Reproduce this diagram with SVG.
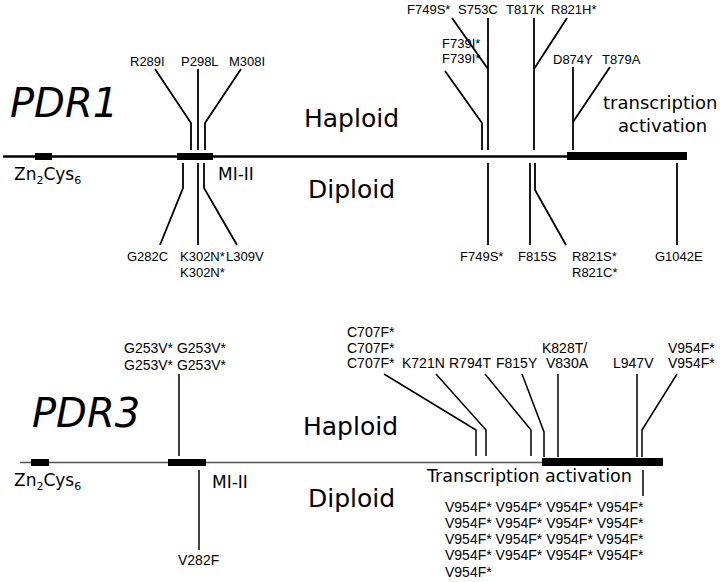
<svg xmlns="http://www.w3.org/2000/svg" width="720" height="582" viewBox="0 0 720 582">
<style>
.bg{fill:#fff}
.m1{font-family:"Liberation Sans",Arial,sans-serif;font-size:13px;fill:#000}
.m3{font-family:"Liberation Sans",Arial,sans-serif;font-size:14px;fill:#000}
.cs{font-family:"DejaVu Sans",sans-serif;fill:#000}
.gene{font-size:40px;font-style:italic}
.ploid{font-size:25px}
.dom{font-size:17px}
.ln{fill:none;stroke:#000;stroke-width:1.8}
.ln3{fill:none;stroke:#000;stroke-width:1.5}
.box{fill:#000}
</style>
<rect class="bg" x="0" y="0" width="720" height="582"/>

<!-- PDR1 -->
<g id="pdr1-track">
  <line x1="3" y1="156.5" x2="568" y2="156.5" stroke="#000" stroke-width="2.5"/>
  <text class="cs gene" x="10" y="117">PDR1</text>
  <text class="cs ploid" x="304" y="127">Haploid</text>
  <text class="cs ploid" x="308" y="198">Diploid</text>
</g>
<g id="pdr1-zn">
  <rect class="box" x="35" y="153" width="17" height="7"/>
  <text class="cs dom" x="14" y="180">Zn<tspan font-size="11" dy="4">2</tspan><tspan dy="-4">Cys</tspan><tspan font-size="11" dy="4">6</tspan></text>
</g>
<g id="pdr1-mi">
  <rect class="box" x="177" y="153" width="36" height="7"/>
  <text class="cs dom" x="218" y="180">MI-II</text>
</g>
<g id="pdr1-ta">
  <rect class="box" x="567" y="152" width="120" height="8"/>
  <text class="cs" font-size="18" x="603" y="109">transcription</text>
  <text class="cs" font-size="18" x="618" y="132">activation</text>
</g>
<g id="pdr1-labels-top">
  <text class="m1" x="130" y="66">R289I</text>
  <text class="m1" x="181" y="66">P298L</text>
  <text class="m1" x="229" y="66">M308I</text>
  <text class="m1" x="407" y="14">F749S*</text>
  <text class="m1" x="458" y="14">S753C</text>
  <text class="m1" x="506" y="14">T817K</text>
  <text class="m1" x="551" y="14">R821H*</text>
  <text class="m1" x="442" y="48">F739I*</text>
  <text class="m1" x="442" y="63">F739I*</text>
  <text class="m1" x="553" y="64">D874Y</text>
  <text class="m1" x="602" y="64">T879A</text>
</g>
<g id="pdr1-labels-bottom">
  <text class="m1" x="127" y="261">G282C</text>
  <text class="m1" x="180" y="261">K302N*</text>
  <text class="m1" x="226" y="261">L309V</text>
  <text class="m1" x="180" y="277">K302N*</text>
  <text class="m1" x="460" y="261">F749S*</text>
  <text class="m1" x="518" y="261">F815S</text>
  <text class="m1" x="572" y="261">R821S*</text>
  <text class="m1" x="572" y="277">R821C*</text>
  <text class="m1" x="655" y="261">G1042E</text>
</g>

<!-- PDR3 -->
<g id="pdr3-track">
  <line x1="20" y1="462.5" x2="543" y2="462.5" stroke="#555" stroke-width="1.5"/>
  <text class="cs gene" x="32" y="427">PDR3</text>
  <text class="cs ploid" x="303" y="435">Haploid</text>
  <text class="cs ploid" x="308" y="507">Diploid</text>
</g>
<g id="pdr3-zn">
  <rect class="box" x="31" y="459" width="18" height="7"/>
  <text class="cs dom" x="14" y="486">Zn<tspan font-size="11" dy="4">2</tspan><tspan dy="-4">Cys</tspan><tspan font-size="11" dy="4">6</tspan></text>
</g>
<g id="pdr3-mi">
  <rect class="box" x="168" y="459" width="38" height="7"/>
  <text class="cs dom" x="212" y="488">MI-II</text>
</g>
<g id="pdr3-ta">
  <rect class="box" x="542" y="458" width="121" height="8"/>
  <text class="cs" font-size="17.5" x="427" y="482">Transcription activation</text>
</g>
<g id="pdr3-labels-top">
  <text class="m3" x="124" y="353">G253V* G253V*</text>
  <text class="m3" x="124" y="370">G253V* G253V*</text>
  <text class="m3" x="347" y="337">C707F*</text>
  <text class="m3" x="347" y="353">C707F*</text>
  <text class="m3" x="347" y="368">C707F*</text>
  <text class="m3" x="402" y="368">K721N</text>
  <text class="m3" x="449" y="368">R794T</text>
  <text class="m3" x="496" y="368">F815Y</text>
  <text class="m3" x="542" y="353">K828T/</text>
  <text class="m3" x="546" y="368">V830A</text>
  <text class="m3" x="613" y="368">L947V</text>
  <text class="m3" x="668" y="353">V954F*</text>
  <text class="m3" x="668" y="368">V954F*</text>
</g>
<g id="pdr3-labels-bottom">
  <text class="m3" x="178" y="565">V282F</text>
  <text class="m3" x="445" y="512">V954F* V954F* V954F* V954F*</text>
  <text class="m3" x="445" y="528">V954F* V954F* V954F* V954F*</text>
  <text class="m3" x="445" y="544">V954F* V954F* V954F* V954F*</text>
  <text class="m3" x="445" y="560">V954F* V954F* V954F* V954F*</text>
  <text class="m3" x="445" y="577">V954F*</text>
</g>

<g id="connectors">
  <!-- PDR1 haploid -->
  <path class="ln" d="M155,69 L191,123 V150"/>
  <path class="ln" d="M198,69 V150"/>
  <path class="ln" d="M241,69 L205,123 V150"/>
  <path class="ln" d="M445,71 L482,123 V150"/>
  <path class="ln" d="M452,18 L488,69"/>
  <path class="ln" d="M488,18 V150"/>
  <path class="ln" d="M534,18 V150"/>
  <path class="ln" d="M567,18 L534,69"/>
  <path class="ln" d="M573,67 V150"/>
  <path class="ln" d="M610,67 L573,122"/>
  <!-- PDR1 diploid -->
  <path class="ln" d="M183,163 V188 L160,245"/>
  <path class="ln" d="M198,163 V245"/>
  <path class="ln" d="M204,163 V188 L237,245"/>
  <path class="ln" d="M488,163 V245"/>
  <path class="ln" d="M530,163 V245"/>
  <path class="ln" d="M535,163 V190 L566,245"/>
  <path class="ln" d="M677,163 V245"/>
  <!-- PDR3 haploid -->
  <path class="ln3" d="M179,374 V456"/>
  <path class="ln3" d="M384,374 L476,430 V456"/>
  <path class="ln3" d="M436,374 L486,430 V456"/>
  <path class="ln3" d="M485,374 L531,430 V456"/>
  <path class="ln3" d="M522,374 L544,432 V457"/>
  <path class="ln3" d="M558,374 V457"/>
  <path class="ln3" d="M637,374 V457"/>
  <path class="ln3" d="M677,374 L642,430 V457"/>
  <!-- PDR3 diploid -->
  <path class="ln3" d="M199,470 V550"/>
  <path class="ln3" d="M643,470 V496"/>
</g>
</svg>
